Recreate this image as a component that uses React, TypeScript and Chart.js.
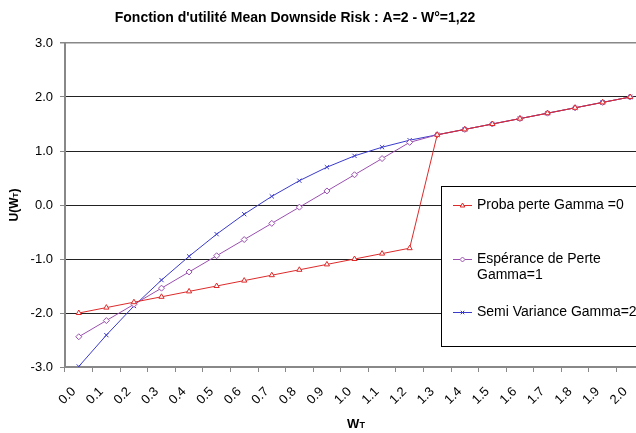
import React, { useEffect, useRef } from "react";
import { Chart, registerables } from "chart.js";

Chart.register(...registerables);

const categories = [
  "0.0", "0.1", "0.2", "0.3", "0.4", "0.5", "0.6", "0.7", "0.8", "0.9", "1.0",
  "1.1", "1.2", "1.3", "1.4", "1.5", "1.6", "1.7", "1.8", "1.9", "2.0",
];

const probaPerte = [
  -2.0, -1.9, -1.8, -1.7, -1.6, -1.5, -1.4, -1.3, -1.2, -1.1, -1.0,
  -0.9, -0.8, 1.3, 1.4, 1.5, 1.6, 1.7, 1.8, 1.9, 2.0,
];

const esperancePerte = [
  -2.44, -2.14, -1.84, -1.54, -1.24, -0.94, -0.64, -0.34, -0.04, 0.26, 0.56,
  0.86, 1.16, 1.3, 1.4, 1.5, 1.6, 1.7, 1.8, 1.9, 2.0,
];

const semiVariance = [
  -2.99, -2.41, -1.87, -1.39, -0.95, -0.54, -0.17, 0.16, 0.45, 0.7, 0.91,
  1.07, 1.2, 1.3, 1.4, 1.5, 1.6, 1.7, 1.8, 1.9, 2.0,
];

const seriesNames = [
  "Proba perte Gamma =0",
  "Espérance de Perte Gamma=1",
  "Semi Variance Gamma=2",
];
const legendLines = [
  ["Proba perte Gamma =0"],
  ["Espérance de Perte", "Gamma=1"],
  ["Semi Variance Gamma=2"],
];
const seriesColors = ["#dd2a2a", "#9b4fb0", "#3a3acb"];
const seriesMarkers = ["triangle", "rectRot", "crossRot"];

const titleText = "Fonction d'utilité Mean Downside Risk : A=2 - W°=1,22";
const yMin = -3;
const yMax = 3;

const FONT = '"Liberation Sans", Arial, sans-serif';

function drawMarker(ctx: CanvasRenderingContext2D, style: string, x: number, y: number, r: number, color: string) {
  ctx.save();
  ctx.strokeStyle = color;
  ctx.fillStyle = "#ffffff";
  ctx.lineWidth = 1;
  ctx.beginPath();
  if (style === "triangle") {
    ctx.moveTo(x, y - r);
    ctx.lineTo(x + r * 0.9, y + r * 0.6);
    ctx.lineTo(x - r * 0.9, y + r * 0.6);
    ctx.closePath();
    ctx.fill();
    ctx.stroke();
  } else if (style === "rectRot") {
    ctx.moveTo(x, y - r);
    ctx.lineTo(x + r, y);
    ctx.lineTo(x, y + r);
    ctx.lineTo(x - r, y);
    ctx.closePath();
    ctx.fill();
    ctx.stroke();
  } else {
    ctx.moveTo(x - r * 0.7, y - r * 0.7);
    ctx.lineTo(x + r * 0.7, y + r * 0.7);
    ctx.moveTo(x + r * 0.7, y - r * 0.7);
    ctx.lineTo(x - r * 0.7, y + r * 0.7);
    ctx.stroke();
  }
  ctx.restore();
}

const overlayPlugin = {
  id: "overlay",
  afterDraw(chart: any) {
    const ctx: CanvasRenderingContext2D = chart.ctx;
    ctx.save();
    ctx.fillStyle = "#000";
    // Title
    ctx.font = `bold 14px ${FONT}`;
    ctx.textAlign = "center";
    ctx.textBaseline = "alphabetic";
    ctx.fillText(titleText, 295, 22);

    // Y axis title U(W_T)
    ctx.save();
    ctx.translate(18, 205);
    ctx.rotate(-Math.PI / 2);
    const big = `bold 12px ${FONT}`;
    const small = `bold 8px ${FONT}`;
    ctx.font = big;
    const p1 = "U(W";
    const w1 = ctx.measureText(p1).width;
    ctx.font = small;
    const w2 = ctx.measureText("T").width;
    ctx.font = big;
    const w3 = ctx.measureText(")").width;
    let sx = -(w1 + w2 + w3) / 2;
    ctx.textAlign = "left";
    ctx.fillText(p1, sx, 0);
    sx += w1;
    ctx.font = small;
    ctx.fillText("T", sx, 0);
    sx += w2;
    ctx.font = big;
    ctx.fillText(")", sx, 0);
    ctx.restore();

    // X axis title W_T
    ctx.font = `bold 13px ${FONT}`;
    const xw1 = ctx.measureText("W").width;
    ctx.font = `bold 9px ${FONT}`;
    const xw2 = ctx.measureText("T").width;
    let xx = 356 - (xw1 + xw2) / 2;
    ctx.textAlign = "left";
    ctx.font = `bold 13px ${FONT}`;
    ctx.fillText("W", xx, 428);
    xx += xw1;
    ctx.font = `bold 9px ${FONT}`;
    ctx.fillText("T", xx, 428);

    // Legend
    ctx.fillStyle = "#ffffff";
    ctx.fillRect(441.5, 186.5, 220, 160);
    ctx.strokeStyle = "#000";
    ctx.lineWidth = 1;
    ctx.strokeRect(441.5, 186.5, 220, 160);
    const entryY = [205, 259, 312];
    ctx.font = `14px ${FONT}`;
    ctx.textBaseline = "middle";
    for (let i = 0; i < legendLines.length; i++) {
      const y = entryY[i];
      ctx.strokeStyle = seriesColors[i];
      ctx.lineWidth = 1;
      ctx.beginPath();
      ctx.moveTo(453, y + 0.5);
      ctx.lineTo(472, y + 0.5);
      ctx.stroke();
      drawMarker(ctx, seriesMarkers[i], 462.5, y + 0.5, 2.5, seriesColors[i]);
      ctx.fillStyle = "#000";
      legendLines[i].forEach((t, j) => {
        ctx.fillText(t, 477, y + j * 16.5);
      });
    }
    ctx.restore();
  },
};

export default function App() {
  const canvasRef = useRef<HTMLCanvasElement | null>(null);

  useEffect(() => {
    const canvas = canvasRef.current;
    if (!canvas) return;
    const series = [probaPerte, esperancePerte, semiVariance];
    const chart = new Chart(canvas, {
      type: "line",
      data: {
        labels: categories,
        datasets: series.map((d, i) => ({
          label: seriesNames[i],
          data: d,
          borderColor: seriesColors[i],
          backgroundColor: "#ffffff",
          borderWidth: 1,
          pointStyle: seriesMarkers[i] as any,
          pointRadius: 3,
          pointBorderColor: seriesColors[i],
          pointBackgroundColor: "#ffffff",
          pointBorderWidth: 1,
          tension: 0,
          fill: false,
        })),
      },
      options: {
        animation: false,
        responsive: false,
        devicePixelRatio: 1,
        layout: { autoPadding: false, padding: { top: 43, right: 0, left: 0, bottom: 0 } },
        plugins: {
          legend: { display: false },
          title: { display: false },
          tooltip: { enabled: false },
        },
        scales: {
          x: {
            type: "category",
            offset: true,
            grid: {
              offset: true,
              drawOnChartArea: false,
              tickLength: 5,
              tickColor: "#888888",
            },
            border: { display: true, color: "#888888", width: 2 },
            ticks: {
              autoSkip: false,
              maxRotation: 45,
              minRotation: 45,
              padding: 12,
              labelOffset: -5,
              color: "#000",
              font: { family: FONT, size: 13 },
            },
            afterFit(scale: any) {
              scale.height = 66;
              scale.paddingRight = 0;
              scale.paddingLeft = 0;
            },
          },
          y: {
            min: yMin,
            max: yMax,
            ticks: {
              stepSize: 1,
              padding: 7,
              color: "#000",
              font: { family: FONT, size: 13 },
              callback: (v: any) => Number(v).toFixed(1),
            },
            grid: {
              color: (c: any) => (c.tick && c.tick.value === yMax ? "#888888" : "#222222"),
              lineWidth: (c: any) => (c.tick && c.tick.value === yMax ? 1.5 : 1),
              tickLength: 5,
              tickColor: "#888888",
            },
            border: { display: true, color: "#888888", width: 2 },
            afterFit(scale: any) {
              scale.width = 65;
              scale.paddingTop = 0;
              scale.paddingBottom = 0;
            },
          },
        },
      },
      plugins: [overlayPlugin],
    });
    return () => chart.destroy();
  }, []);

  return (
    <div style={{ position: "fixed", left: 0, top: 0, width: 636, height: 433, overflow: "hidden", background: "#fff" }}>
      <canvas ref={canvasRef} width={644} height={433} style={{ display: "block" }} />
    </div>
  );
}
